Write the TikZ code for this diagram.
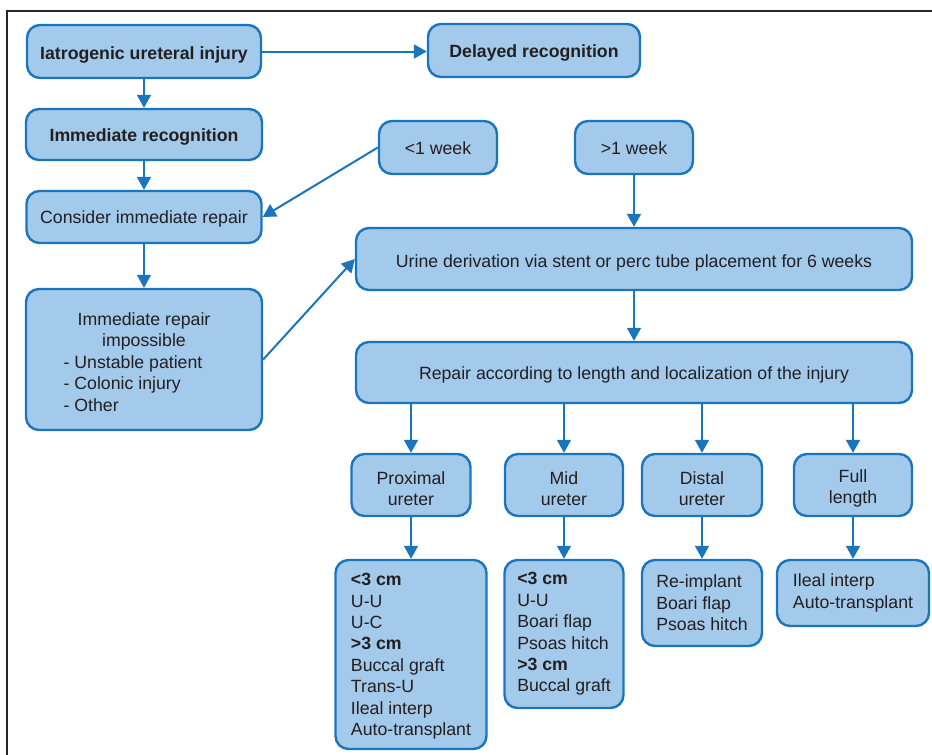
\documentclass[tikz,border=0pt]{standalone}
\usepackage{fontspec}
\setmainfont{Liberation Sans}
\usetikzlibrary{arrows.meta}
\definecolor{boxfill}{HTML}{A3C9EB}
\definecolor{boxline}{HTML}{1B75BC}
\definecolor{txt}{HTML}{231F20}
% invisible rule that pushes the first line of a box down
\newcommand{\loft}[1][20pt]{\rule{0pt}{#1}}
\tikzset{
    %Define standard arrow tip
    >={Triangle[length=13pt,width=14pt]},
    %Define style for boxes
    boks/.style={
           rectangle,
           rounded corners=13pt,
           draw=boxline, line width=2.4pt,
           fill=boxfill,
           text=txt,
           inner sep=0pt,
           align=center},
    % one line of text, centred on its capitals
    enlinje/.style={
           boks,
           text height=#1,
           text depth=0pt},
    enlinje/.default=13pt,
    % Define style for the lists at the bottom
    liste/.style={
           boks,
           align=left},
    % Size of a box
    sz/.style 2 args={
           minimum width=#1pt,
           minimum height=#2pt},
    % Define arrow style
    pil/.style={
           ->,
           draw=boxline,
           line width=2pt}
}

\begin{document}
\begin{tikzpicture}[x=1pt,y=-1pt,font=\fontsize{17.7}{21.4}\selectfont,
                    every edge/.style={draw,pil}]
    \useasboundingbox (0,0) rectangle (932,755);
    % frame
    \draw [line width=1.4pt,black!85] (7,755) -- (7,11) -- (932,11);
    % left column
    \node (iatro) [enlinje=16pt,sz={234}{53}] at (144,51.5)
          {\textbf{Iatrogenic ureteral injury}};
    \node (delayed) [enlinje,sz={212}{53}] at (534,50.5)
          {\textbf{Delayed recognition}};
    \draw [pil] (iatro.east) -- (iatro.east -| delayed.west);
    \node (immed) [enlinje,sz={236}{51}] at (144,134.5)
          {\textbf{Immediate recognition}}
          edge [<-] (iatro);
    \node (consider) [enlinje,sz={235}{52}] at (144,217)
          {Consider immediate repair}
          edge [<-] (immed);
    \node (impossible) [boks,sz={236}{141}] at (144,359.5)
          {\loft[24pt]Immediate repair\\impossible\\
           \begin{tabular}[t]{@{}l@{}}- Unstable patient\\- Colonic injury\\- Other\end{tabular}\hspace*{22pt}}
          edge [<-] (consider);
    % timing
    \node (less1) [enlinje,sz={118}{53}] at (438,147.5) {<1 week};
    \draw [pil] (less1.west) -- (consider.east);
    \node (more1) [enlinje,sz={118}{53}] at (634,147.5) {>1 week};
    \node (urine) [enlinje=17pt,sz={556}{62}] at (634,259)
          {Urine derivation via stent or perc tube placement for 6 weeks}
          edge [<-] (more1);
    \draw [pil] (impossible.east) -- (urine.west);
    \node (repair) [enlinje,sz={556}{61}] at (634,372.5)
          {Repair according to length and localization of the injury}
          edge [<-] (urine);
    % localization
    \node (prox) [boks,sz={119}{62}] at (411,485) {\loft Proximal\\ureter};
    \node (mid) [boks,sz={118}{62}] at (564,485) {\loft Mid\\ureter};
    \node (distal) [boks,sz={120}{62}] at (702,485) {\loft Distal\\ureter};
    \node (full) [boks,sz={118}{62}] at (853,485) {\loft Full\\length};
    \foreach \n in {prox,mid,distal,full}
      \draw [pil] (repair.south -| \n.north) -- (\n);
    % repair options
    \node (proxlist) [liste,sz={151}{189}] at (411,654.5)
          {\loft[16pt]\textbf{<3 cm}\\U-U\\U-C\\\textbf{>3 cm}\\Buccal graft\\Trans-U\\Ileal interp\\Auto-transplant}
          edge [<-] (prox);
    \node (midlist) [liste,sz={119}{148}] at (564,634)
          {\textbf{<3 cm}\\U-U\\Boari flap\\Psoas hitch\\\textbf{>3 cm}\\Buccal graft}
          edge [<-] (mid);
    \node (distlist) [liste,sz={120}{86}] at (702,603)
          {Re-implant\\Boari flap\\Psoas hitch}
          edge [<-] (distal);
    \node (fulllist) [liste,sz={152}{66}] at (853,593)
          {Ileal interp\\Auto-transplant}
          edge [<-] (full);
\end{tikzpicture}
\end{document}
